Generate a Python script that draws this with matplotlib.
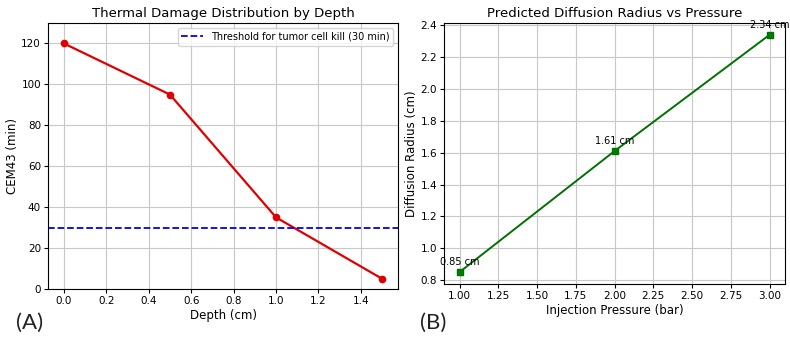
import matplotlib
matplotlib.use("Agg")
import matplotlib.pyplot as plt

depth = [0.0, 0.5, 1.0, 1.5]
cem43 = [120, 95, 35, 5]
threshold = 30
threshold_label = "Threshold for tumor cell kill (30 min)"

pressure = [1.0, 2.0, 3.0]
radius = [0.85, 1.61, 2.34]
radius_labels = ["0.85 cm", "1.61 cm", "2.34 cm"]

fig = plt.figure(figsize=(7.9, 3.37), dpi=100)
ax1 = fig.add_axes([48/790, 1 - 289/337, 350/790, 266/337])
ax2 = fig.add_axes([444/790, 1 - 284/337, 341/790, 261/337])

fs = 7.5
gridc = "#c8c8c8"
ax1.plot(depth, cem43, color="#e00000", marker="o", markersize=4.5, linewidth=1.6)
ax1.axhline(threshold, color="#0000ee", linestyle="--", linewidth=1.3, label=threshold_label)
ax1.set_ylim(0, 130)
ax1.set_title("Thermal Damage Distribution by Depth", fontsize=9.5, pad=4)
ax1.set_xlabel("Depth (cm)", fontsize=8.5, labelpad=2)
ax1.set_ylabel("CEM43 (min)", fontsize=8.5, labelpad=2)
ax1.grid(True, color=gridc, linewidth=0.8)
ax1.legend(loc="upper right", fontsize=7, frameon=True, handlelength=2.2, borderpad=0.4)
ax1.tick_params(labelsize=fs, length=3, pad=2)

ax2.plot(pressure, radius, color="#007000", marker="s", markersize=4.5, linewidth=1.4, markerfacecolor="#008000")
for x, y, t in zip(pressure, radius, radius_labels):
    ax2.annotate(t, (x, y), textcoords="offset points", xytext=(0, 5), ha="center", fontsize=7)
ax2.set_title("Predicted Diffusion Radius vs Pressure", fontsize=9.5, pad=4)
ax2.set_xlabel("Injection Pressure (bar)", fontsize=8.5, labelpad=2)
ax2.set_ylabel("Diffusion Radius (cm)", fontsize=8.5, labelpad=2)
ax2.grid(True, color=gridc, linewidth=0.8)
ax2.tick_params(labelsize=fs, length=3, pad=2)

fig.text(16/790, 1 - 323/337, "(A)", fontsize=16, family="Lato", color="#222222", va="center")
fig.text(420/790, 1 - 323/337, "(B)", fontsize=16, family="Lato", color="#222222", va="center")

fig.savefig("out.png", dpi=100)
